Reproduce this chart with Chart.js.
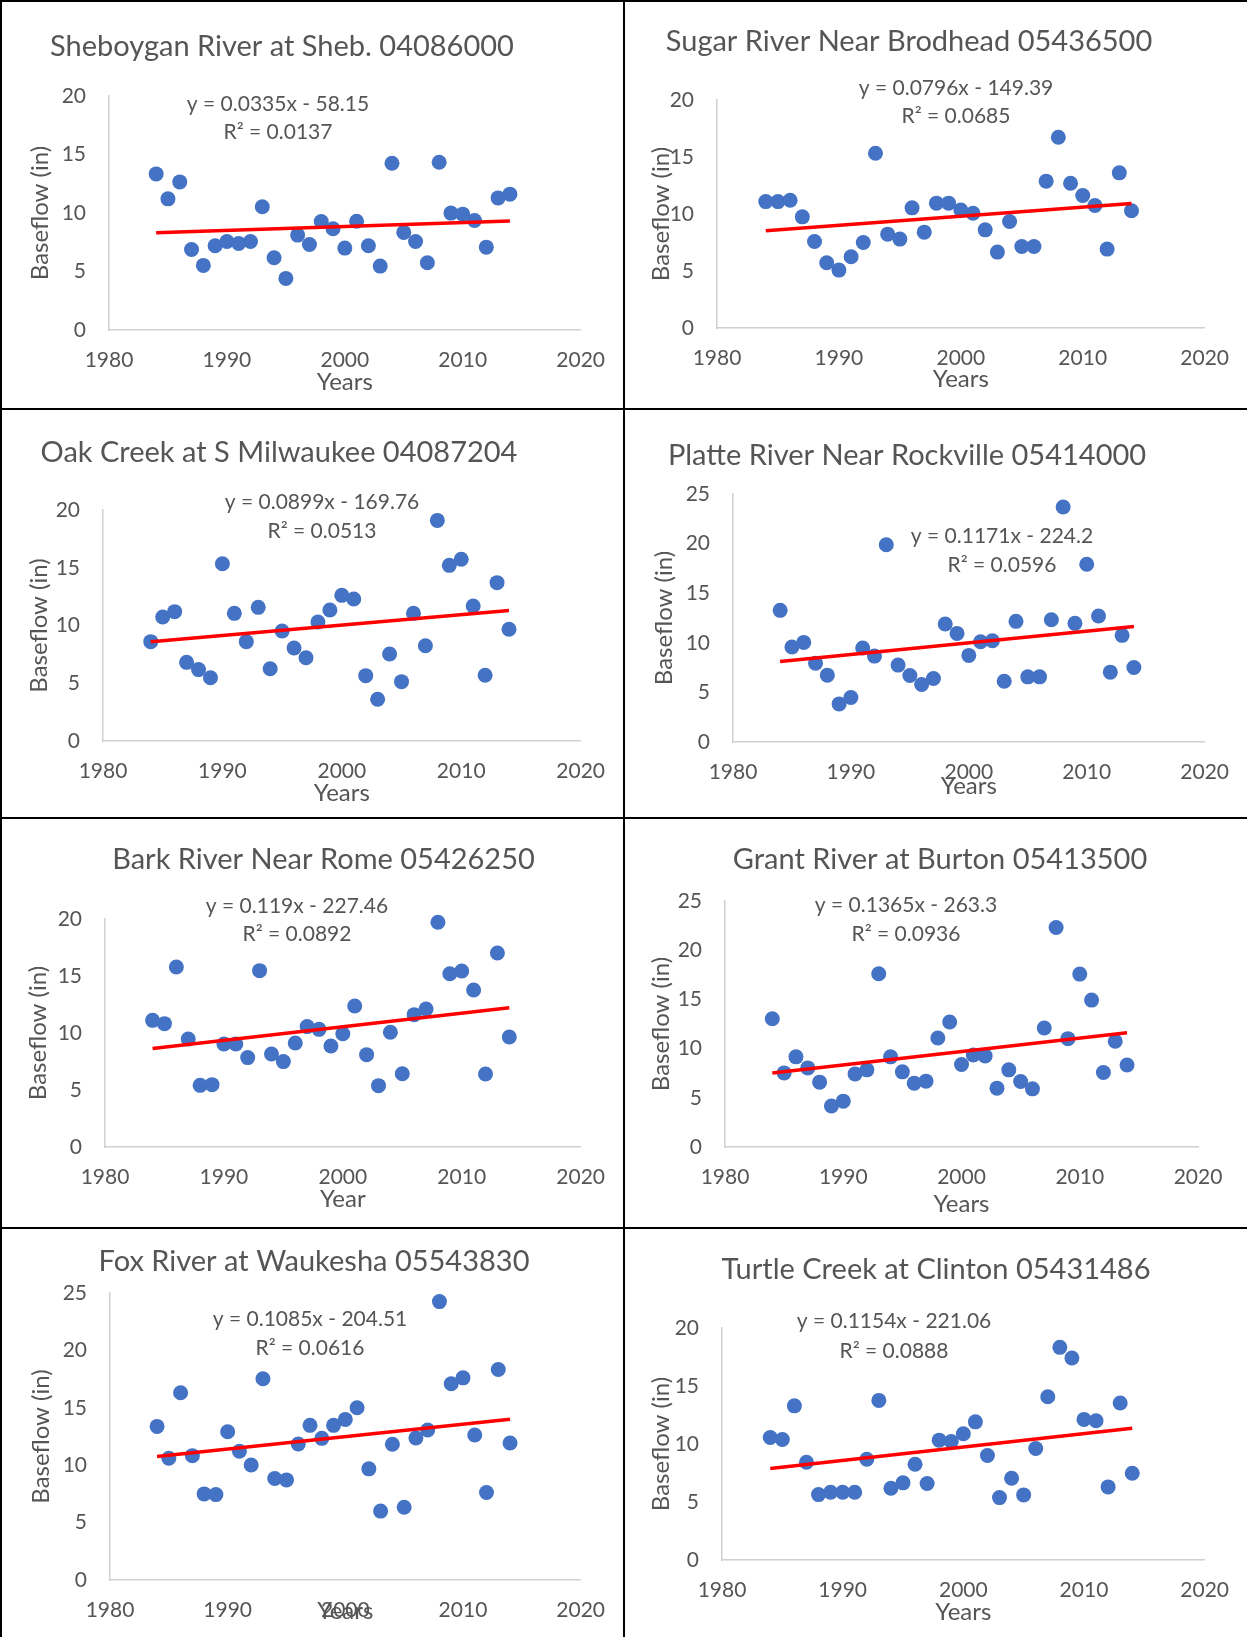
<!DOCTYPE html>
<html>
<head>
<meta charset="utf-8">
<script src="https://cdn.jsdelivr.net/npm/chart.js@4.4.1/dist/chart.umd.min.js"></script>
<style>
  html, body { margin: 0; padding: 0; background: #fff; }
  #page { position: relative; width: 1247px; height: 1637px; overflow: hidden; }
  #page canvas { position: absolute; }
  .rule { position: absolute; background: #000; z-index: 2; }
</style>
</head>
<body>
<div id="page"></div>
<script>
// x values: water years
const years = [1984, 1985, 1986, 1987, 1988, 1989, 1990, 1991, 1992, 1993, 1994, 1995, 1996, 1997, 1998, 1999,
  2000, 2001, 2002, 2003, 2004, 2005, 2006, 2007, 2008, 2009, 2010, 2011, 2012, 2013, 2014];

// baseflow (in) for each gauge
const sheboygan = [13.34, 11.21, 12.66, 6.88, 5.52, 7.2, 7.57, 7.4, 7.57, 10.53, 6.17, 4.41, 8.11, 7.31, 9.27, 8.65,
  7.0, 9.3, 7.2, 5.46, 14.25, 8.34, 7.57, 5.75, 14.34, 9.99, 9.9, 9.36, 7.08, 11.29, 11.61];
const sugar = [11.09, 11.09, 11.21, 9.75, 7.59, 5.72, 5.08, 6.25, 7.5, 15.33, 8.23, 7.8, 10.54, 8.41, 10.95, 10.95,
  10.34, 10.07, 8.61, 6.66, 9.34, 7.15, 7.15, 12.88, 16.73, 12.7, 11.62, 10.74, 6.92, 13.61, 10.28];
const oakCreek = [8.6, 10.74, 11.2, 6.81, 6.18, 5.48, 15.35, 11.05, 8.6, 11.57, 6.26, 9.52, 8.05, 7.21, 10.3, 11.34,
  12.61, 12.29, 5.66, 3.61, 7.53, 5.14, 11.05, 8.25, 19.1, 15.21, 15.73, 11.69, 5.69, 13.71, 9.67];
const platte = [13.27, 9.57, 10.04, 7.95, 6.74, 3.84, 4.48, 9.47, 8.66, 19.88, 7.75, 6.7, 5.8, 6.4, 11.89, 10.95,
  8.73, 10.11, 10.21, 6.13, 12.16, 6.57, 6.57, 12.33, 23.69, 11.96, 17.92, 12.7, 7.04, 10.75, 7.51];
const bark = [11.11, 10.82, 15.79, 9.47, 5.41, 5.47, 9.04, 9.04, 7.84, 15.47, 8.16, 7.49, 9.12, 10.56, 10.32, 8.86,
  9.94, 12.37, 8.1, 5.38, 10.06, 6.43, 11.61, 12.11, 19.71, 15.2, 15.44, 13.77, 6.4, 17.02, 9.65];
const grant = [13.04, 7.53, 9.16, 8.04, 6.59, 4.16, 4.66, 7.43, 7.84, 17.6, 9.16, 7.64, 6.49, 6.69, 11.08, 12.7,
  8.38, 9.36, 9.26, 5.98, 7.84, 6.66, 5.91, 12.09, 22.3, 11.01, 17.57, 14.93, 7.57, 10.74, 8.34];
const fox = [13.38, 10.6, 16.31, 10.83, 7.5, 7.44, 12.92, 11.21, 10.02, 17.53, 8.84, 8.72, 11.85, 13.47, 12.34, 13.47,
  13.99, 15.01, 9.68, 6.0, 11.82, 6.34, 12.37, 13.06, 24.25, 17.09, 17.61, 12.63, 7.62, 18.34, 11.94];
const turtle = [10.56, 10.39, 13.29, 8.43, 5.64, 5.84, 5.84, 5.84, 8.69, 13.76, 6.19, 6.65, 8.26, 6.59, 10.33, 10.22,
  10.88, 11.91, 9.01, 5.38, 7.05, 5.61, 9.61, 14.07, 18.33, 17.41, 12.12, 12.0, 6.3, 13.53, 7.48];

const series = [sheboygan, sugar, oakCreek, platte, bark, grant, fox, turtle];
const stations = ['Sheboygan River at Sheb. 04086000', 'Sugar River Near Brodhead 05436500',
  'Oak Creek at S Milwaukee 04087204', 'Platte River Near Rockville 05414000',
  'Bark River Near Rome 05426250', 'Grant River at Burton 05413500',
  'Fox River at Waukesha 05543830', 'Turtle Creek at Clinton 05431486'];
const xTitles = ['Years', 'Years', 'Years', 'Years', 'Year', 'Years', 'Years', 'Years'];
const yMax = [20, 20, 20, 25, 20, 25, 25, 20];
const xTicks = [1980, 2020];

// linear trend (Excel trendline) per gauge
const slopes = [0.0335, 0.0796, 0.0899, 0.1171, 0.119, 0.1365, 0.1085, 0.1154];
const intercepts = [-58.15, -149.39, -169.76, -224.2, -227.46, -263.3, -204.51, -221.06];
const eqLabels = ['y = 0.0335x - 58.15', 'y = 0.0796x - 149.39', 'y = 0.0899x - 169.76', 'y = 0.1171x - 224.2',
  'y = 0.119x - 227.46', 'y = 0.1365x - 263.3', 'y = 0.1085x - 204.51', 'y = 0.1154x - 221.06'];
const r2Labels = ['R² = 0.0137', 'R² = 0.0685', 'R² = 0.0513', 'R² = 0.0596',
  'R² = 0.0892', 'R² = 0.0936', 'R² = 0.0616', 'R² = 0.0888'];

// where each panel sits on the page and where its texts go (canvas px)
const panels = [
  {x: 0,   y: 0,    w: 623, h: 409, L: 109, R: 590, T: 96,  B: 330, tX: 282, tY: 47, eX: 278, eY: [104, 132], yT: 40,   xT: 382},
  {x: 624, y: 0,    w: 623, h: 409, L: 93,  R: 594, T: 100, B: 328, tX: 285, tY: 42, eX: 332, eY: [88, 116],  yT: 37.5, xT: 379.5},
  {x: 0,   y: 409,  w: 623, h: 409, L: 103, R: 585, T: 101, B: 332, tX: 279, tY: 43.5, eX: 322, eY: [93, 122], yT: 39, xT: 384},
  {x: 624, y: 409,  w: 623, h: 409, L: 109, R: 590, T: 85,  B: 333, tX: 283, tY: 47, eX: 378, eY: [127, 156], yT: 40,   xT: 377},
  {x: 0,   y: 818,  w: 623, h: 410, L: 105, R: 585, T: 101, B: 329, tX: 323.5, tY: 42, eX: 297, eY: [88, 116], yT: 38, xT: 381.5},
  {x: 624, y: 818,  w: 623, h: 410, L: 101, R: 574, T: 83,  B: 329, tX: 316, tY: 42, eX: 282, eY: [87, 116],  yT: 37.5, xT: 386.5},
  {x: 0,   y: 1228, w: 623, h: 409, L: 110, R: 588, T: 65,  B: 352, tX: 314, tY: 34, eX: 310, eY: [91, 120],  yT: 41,   xT: 383},
  {x: 624, y: 1228, w: 623, h: 409, L: 98,  R: 584, T: 100, B: 332, tX: 312, tY: 42, eX: 270, eY: [93, 123],  yT: 37.5, xT: 384.5}
];

const textGray = '#555555';
const axisGray = '#d0d0d0';
const FONT = 'Lato';
const TICK_SIZE = 21;
const AXIS_TITLE_SIZE = 24;

// titles and trendline equations drawn as canvas text
const panelText = {
  id: 'panelText',
  afterDraw(chart, args, opts) {
    const ctx = chart.ctx;
    ctx.save();
    ctx.fillStyle = textGray;
    ctx.textAlign = 'center';
    ctx.textBaseline = 'middle';
    ctx.font = '29px ' + FONT;
    ctx.fillText(opts.title, opts.tX, opts.tY);
    ctx.font = TICK_SIZE + 'px ' + FONT;
    opts.lines.forEach((t, k) => ctx.fillText(t, opts.eX, opts.eY[k]));
    ctx.restore();
  }
};

function build() {
  const page = document.getElementById('page');
  const halfLine = AXIS_TITLE_SIZE * 0.6;

  panels.forEach((p, i) => {
    const canvas = document.createElement('canvas');
    canvas.width = p.w;
    canvas.height = p.h;
    canvas.style.left = p.x + 'px';
    canvas.style.top = p.y + 'px';
    page.appendChild(canvas);

    const vals = series[i];
    const first = years[0], last = years[years.length - 1];
    const trend = [
      {x: first, y: slopes[i] * first + intercepts[i]},
      {x: last, y: slopes[i] * last + intercepts[i]}
    ];

    new Chart(canvas, {
      type: 'scatter',
      data: {
        datasets: [{
          type: 'line',
          data: trend,
          borderColor: '#ff0000',
          borderWidth: 3.5,
          pointRadius: 0,
          order: 0,
          clip: false
        }, {
          data: years.map((yr, k) => ({x: yr, y: vals[k]})),
          backgroundColor: '#4472c4',
          borderWidth: 0,
          pointRadius: 7.5,
          order: 1,
          clip: false
        }]
      },
      options: {
        responsive: false,
        animation: false,
        events: [],
        layout: {padding: {left: 0, top: p.T, right: p.w - p.R, bottom: 0}},
        plugins: {
          legend: {display: false},
          tooltip: {enabled: false},
          panelText: {
            title: stations[i], tX: p.tX, tY: p.tY,
            lines: [eqLabels[i], r2Labels[i]], eX: p.eX, eY: p.eY
          }
        },
        scales: {
          x: {
            type: 'linear',
            min: xTicks[0],
            max: xTicks[1],
            grid: {display: false, drawTicks: false},
            border: {display: true, color: axisGray, width: 1.5},
            ticks: {stepSize: 10, padding: 18, color: textGray, font: {family: FONT, size: TICK_SIZE},
              callback: v => String(v)},
            title: {display: true, text: xTitles[i], color: textGray, font: {family: FONT, size: AXIS_TITLE_SIZE},
              padding: {top: 0, bottom: p.h - p.xT - halfLine}},
            afterFit: s => { s.height = p.h - p.B; }
          },
          y: {
            min: 0,
            max: yMax[i],
            grid: {display: false, drawTicks: false},
            border: {display: true, color: axisGray, width: 1.5},
            ticks: {stepSize: 5, padding: 23, color: textGray, font: {family: FONT, size: TICK_SIZE}},
            title: {display: true, text: 'Baseflow (in)', color: textGray, font: {family: FONT, size: AXIS_TITLE_SIZE},
              padding: {top: p.yT - halfLine, bottom: 0}},
            afterFit: s => { s.width = p.L; }
          }
        }
      },
      plugins: [panelText]
    });
  });

  // black table rules around the panels
  const rules = [
    [0, 0, 1247, 2], [0, 0, 2, 1637], [623, 0, 2, 1637],
    [0, 408, 1247, 2], [0, 817, 1247, 2], [0, 1227, 1247, 2]
  ];
  rules.forEach(r => {
    const d = document.createElement('div');
    d.className = 'rule';
    d.style.left = r[0] + 'px';
    d.style.top = r[1] + 'px';
    d.style.width = r[2] + 'px';
    d.style.height = r[3] + 'px';
    page.appendChild(d);
  });
}

document.fonts.load('21px ' + FONT).then(build, build);
</script>
</body>
</html>
